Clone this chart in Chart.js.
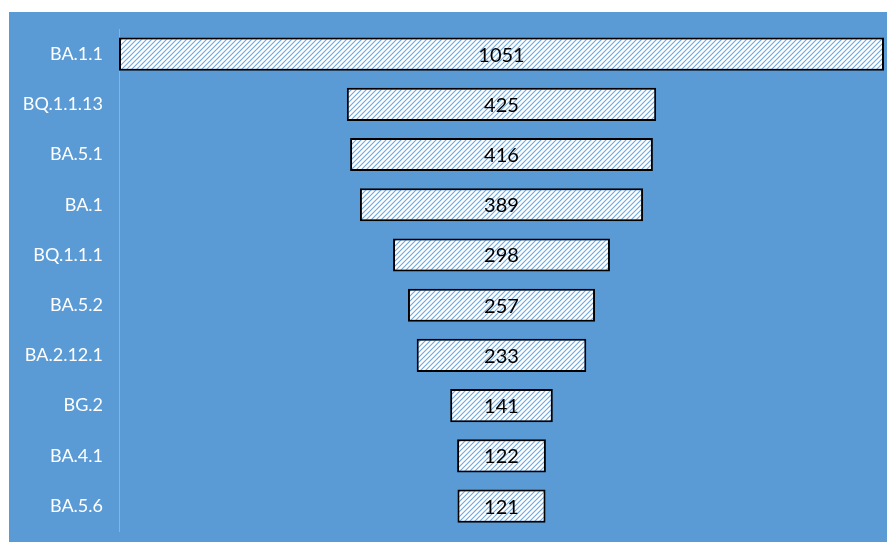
<!DOCTYPE html>
<html>
<head>
<meta charset="utf-8">
<script src="https://cdn.jsdelivr.net/npm/chart.js@4"></script>
<style>
  body { margin: 0; background: #ffffff; }
  #wrap { position: absolute; left: 9px; top: 12px; width: 878px; height: 530px; background: #5b9bd5; }
</style>
</head>
<body>
<div id="wrap"><canvas id="funnel"></canvas></div>
<script>
// lineages and sequence counts
const categories = ['BA.1.1', 'BQ.1.1.13', 'BA.5.1', 'BA.1', 'BQ.1.1.1', 'BA.5.2', 'BA.2.12.1', 'BG.2', 'BA.4.1', 'BA.5.6'];
const counts = [1051, 425, 416, 389, 298, 257, 233, 141, 122, 121];

const maxCount = Math.max(...counts);
// funnel: each bar floats, centred on the middle of the largest one
const floating = counts.map(v => [(maxCount - v) / 2, (maxCount + v) / 2]);

function hatch() {
    const c = document.createElement('canvas');
    c.width = 5; c.height = 5;
    const g = c.getContext('2d');
    g.fillStyle = '#ffffff';
    g.fillRect(0, 0, 5, 5);
    g.strokeStyle = '#6fa7dc';
    g.lineWidth = 1.1;
    g.beginPath();
    g.moveTo(-1, 6); g.lineTo(6, -1);
    g.moveTo(-1, 1); g.lineTo(1, -1);
    g.moveTo(4, 6); g.lineTo(6, 4);
    g.stroke();
    return g.createPattern(c, 'repeat');
}

const centreLabels = {
    id: 'centreLabels',
    afterDatasetsDraw(chart) {
        const ctx = chart.ctx;
        ctx.save();
        ctx.font = '20px Lato, "Open Sans", sans-serif';
        ctx.fillStyle = '#000000';
        ctx.textAlign = 'center';
        ctx.textBaseline = 'middle';
        chart.getDatasetMeta(0).data.forEach((bar, i) => {
            ctx.fillText(counts[i], (bar.x + bar.base) / 2, bar.y + 1);
        });
        ctx.restore();
    }
};

new Chart(document.getElementById('funnel'), {
    type: 'bar',
    data: {
        labels: categories,
        datasets: [{
            data: floating,
            backgroundColor: hatch(),
            borderColor: '#000000',
            borderWidth: 2,
            borderSkipped: false,
            categoryPercentage: 1,
            barPercentage: 0.66
        }]
    },
    options: {
        indexAxis: 'y',
        responsive: true,
        maintainAspectRatio: false,
        animation: false,
        layout: { padding: { top: 17, bottom: 9, right: 3, left: 0 } },
        plugins: { legend: { display: false }, tooltip: { enabled: false } },
        scales: {
            x: { display: false, min: 0, max: maxCount },
            y: {
                grid: { display: true, drawOnChartArea: false, drawTicks: true, tickLength: 16, color: 'rgba(0,0,0,0)' },
                border: { display: true, color: 'rgba(255,255,255,0.25)', width: 1 },
                ticks: {
                    color: '#ffffff',
                    padding: 0,
                    font: { size: 18, family: 'Lato, "Open Sans", sans-serif' }
                },
                afterFit(scale) { scale.width = 110; }
            }
        }
    },
    plugins: [centreLabels]
});
</script>
</body>
</html>
